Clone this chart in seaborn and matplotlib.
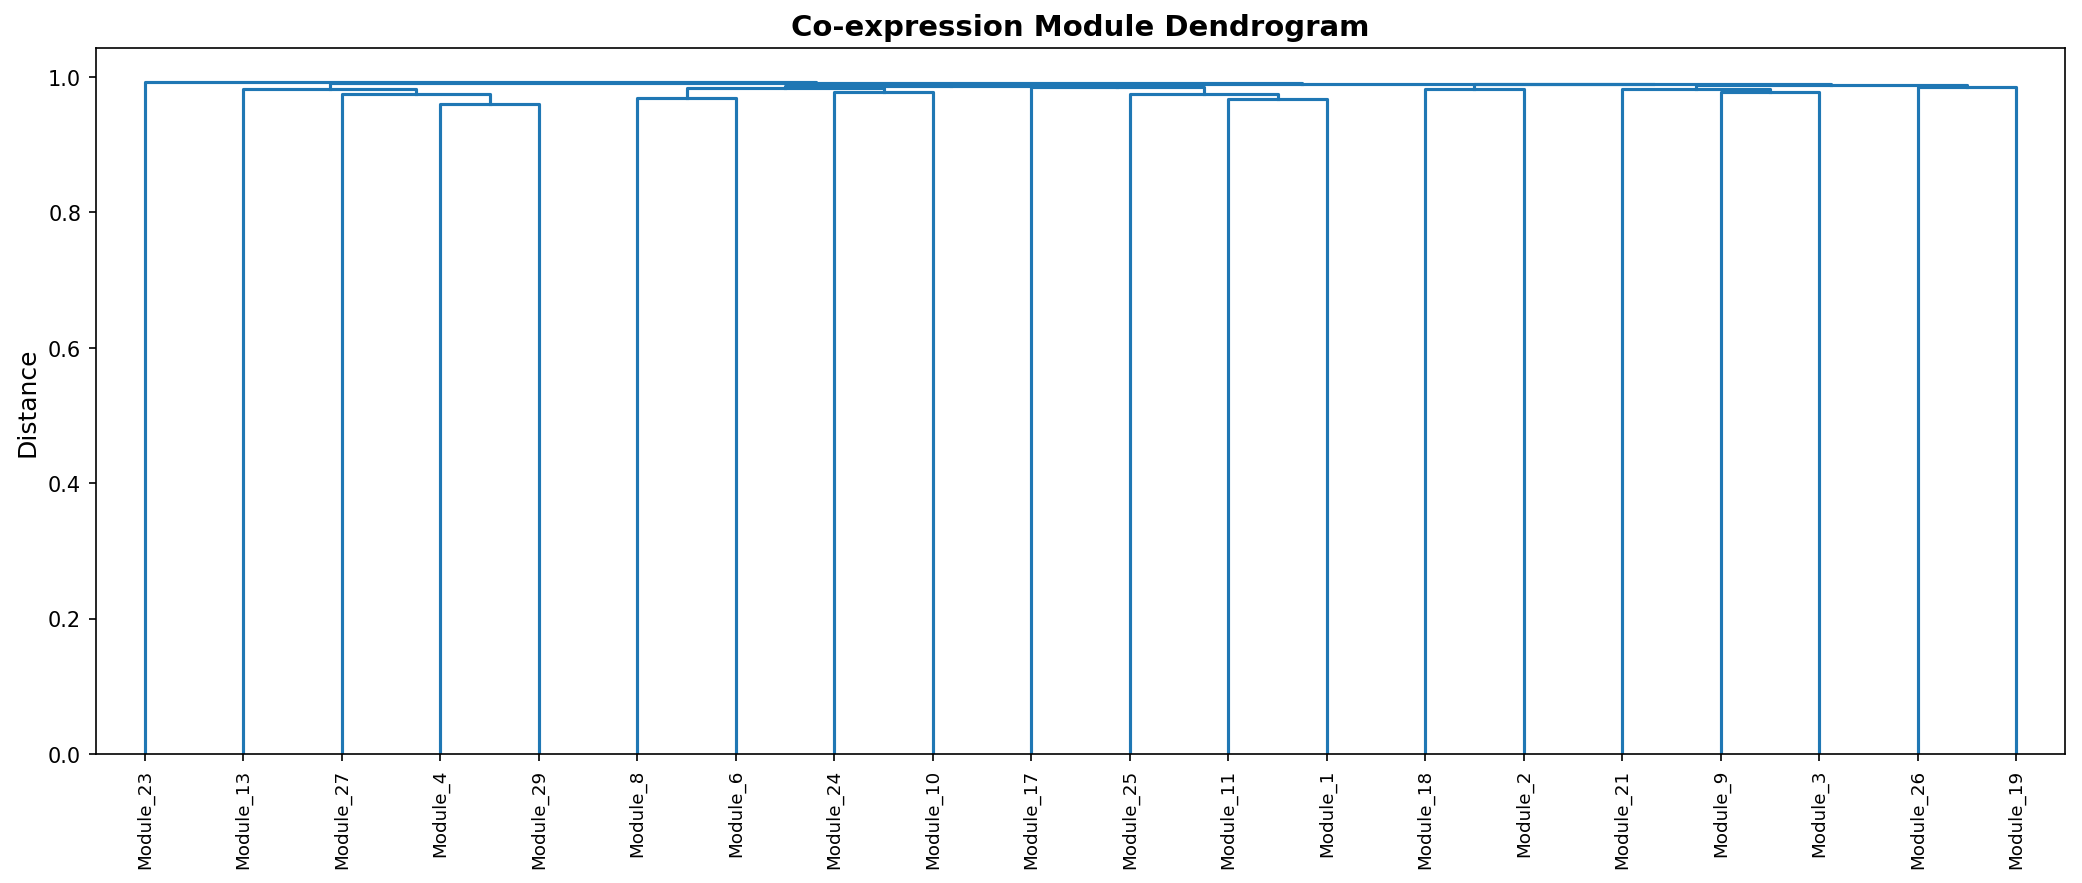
import numpy as np
import pandas as pd
import matplotlib
matplotlib.use("Agg")
import matplotlib.pyplot as plt
import seaborn as sns

# ---- data ----
leaf_labels = ["Module_23", "Module_13", "Module_27", "Module_4", "Module_29",
               "Module_8", "Module_6", "Module_24", "Module_10", "Module_17",
               "Module_25", "Module_11", "Module_1", "Module_18", "Module_2",
               "Module_21", "Module_9", "Module_3", "Module_26", "Module_19"]

# merges: (left child, right child, distance); children are leaf labels or merge names
merge_names = ["m4_29", "m27", "A", "m8_6", "m24_10", "B", "m11_1", "m25", "C",
               "D", "m9_3", "E", "F", "G", "M", "BC", "Q", "R", "root"]
merge_left = ["Module_4", "Module_27", "Module_13", "Module_8", "Module_24", "m8_6",
              "Module_11", "Module_25", "Module_17", "Module_18", "Module_9",
              "Module_21", "Module_26", "E", "D", "B", "BC", "A", "Module_23"]
merge_right = ["Module_29", "m4_29", "m27", "Module_6", "Module_10", "m24_10",
               "Module_1", "m11_1", "m25", "Module_2", "Module_3", "m9_3",
               "Module_19", "F", "G", "C", "M", "Q", "R"]
merge_dist = [0.960, 0.974, 0.982, 0.969, 0.978, 0.984, 0.967, 0.975, 0.985,
              0.982, 0.978, 0.982, 0.985, 0.988, 0.989, 0.987, 0.990, 0.991, 0.993]

# ---- build dendrogram segments ----
pos = {lab: 5 + 10 * i for i, lab in enumerate(leaf_labels)}
hgt = {lab: 0.0 for lab in leaf_labels}
rows = []
for k, (name, l, r, d) in enumerate(zip(merge_names, merge_left, merge_right, merge_dist)):
    xs = [pos[l], pos[l], pos[r], pos[r]]
    ys = [hgt[l], d, d, hgt[r]]
    for j, (x, y) in enumerate(zip(xs, ys)):
        rows.append({"seg": k, "order": j, "x": x, "y": y})
    pos[name] = (pos[l] + pos[r]) / 2
    hgt[name] = d
df = pd.DataFrame(rows)

# ---- plot ----
fig = plt.figure(figsize=(13.88, 5.893), dpi=150)
ax = fig.add_axes([0.046, 0.146, 0.946, 0.799])
sns.lineplot(data=df, x="x", y="y", units="seg", estimator=None, sort=False,
             color="#1f77b4", linewidth=1.5, ax=ax, legend=False)

n = len(leaf_labels)
ax.set_xlim(0, 10 * n)
ax.set_ylim(0, 1.043)
ax.set_xticks([5 + 10 * i for i in range(n)])
ax.set_xticklabels(leaf_labels, rotation=90, fontsize=8.8)
ax.set_yticks([0.0, 0.2, 0.4, 0.6, 0.8, 1.0])
ax.tick_params(axis="y", labelsize=10)
ax.set_xlabel("")
ax.set_ylabel("Distance", fontsize=12)
ax.set_title("Co-expression Module Dendrogram", fontsize=14, fontweight="bold")

fig.savefig("out.png", dpi=150)
